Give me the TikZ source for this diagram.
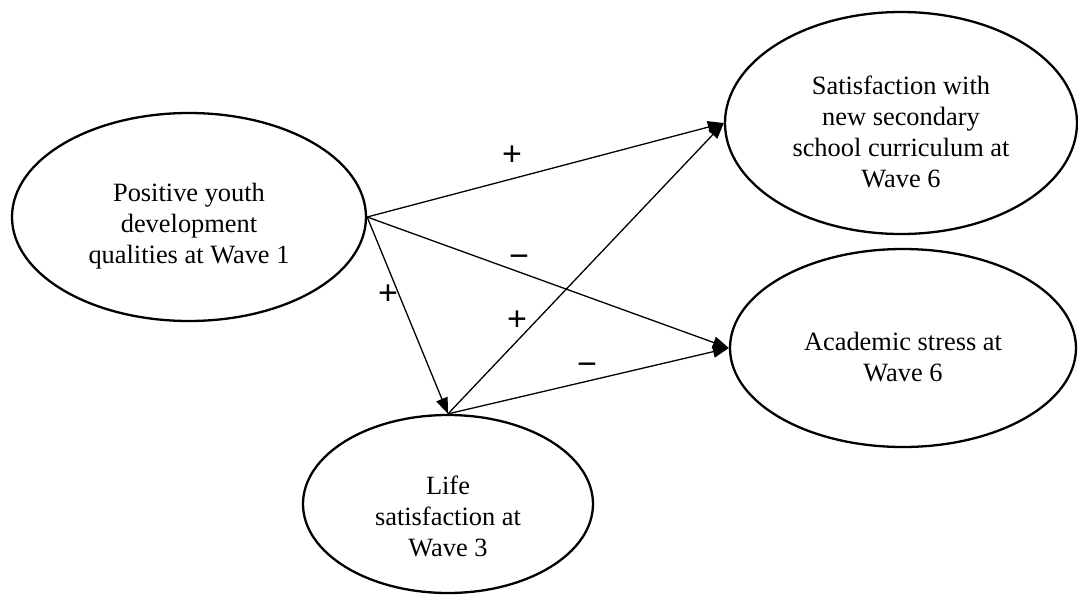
\documentclass[tikz,border=0pt]{standalone}
\usepackage{fontspec}
\setmainfont{Liberation Serif}
\newfontfamily\signfont{Liberation Sans}
\usetikzlibrary{arrows.meta,shapes.geometric}
\begin{document}
\begin{tikzpicture}[x=0.5pt,y=-0.5pt,
  ell/.style={draw, ellipse, line width=1.15pt, inner sep=0pt},
  txt/.style={align=center, inner sep=0pt, font=\fontsize{13.2pt}{15.5pt}\selectfont},
  arr/.style={line width=0.65pt, -{Triangle[length=8pt,width=6pt]}},
  sign/.style={inner sep=0pt, text height=0.7em, text depth=0pt, font=\signfont\fontsize{17pt}{17pt}\selectfont}]
\useasboundingbox (0,0) rectangle (1078,595);
% ellipses
\node[ell, minimum width=177pt, minimum height=104pt] (pyd) at (189,217) {};
\node[ell, minimum width=176pt, minimum height=111pt] (sat) at (901,123) {};
\node[ell, minimum width=173pt, minimum height=99pt] (acad) at (903,348) {};
\node[ell, minimum width=145pt, minimum height=89pt] (life) at (448,504) {};
% texts
\node[txt] (pydt) at ([yshift=-4.5pt]pyd.center) {Positive youth\\development\\qualities at Wave 1};
\node[txt] (satt) at ([yshift=-4.5pt]sat.center) {Satisfaction with\\new secondary\\school curriculum at\\Wave 6};
\node[txt] (acadt) at ([yshift=-4.5pt]acad.center) {Academic stress at\\Wave 6};
\node[txt] (lifet) at ([yshift=-6pt]life.center) {Life\\satisfaction at\\Wave 3};
% connectors
\draw[arr] (pyd.east) -- (sat.west);
\draw[arr] (pyd.east) -- (acad.west);
\draw[arr] (pyd.east) -- (life.north);
\draw[arr] (life.north) -- (sat.west);
\draw[arr] (life.north) -- (acad.west);
% signs
\node[sign] (s1) at (512,158) {+};
\node[sign] (s2) at (519,260) {−};
\node[sign] (s3) at (388,297) {+};
\node[sign] (s4) at (517,323) {+};
\node[sign] (s5) at (587,368) {−};
\end{tikzpicture}
\end{document}
